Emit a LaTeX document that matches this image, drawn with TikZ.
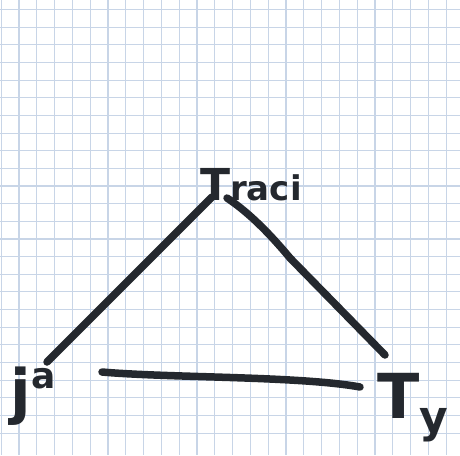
\documentclass[tikz,border=0pt]{standalone}
\usepackage{fontspec}
\setmainfont{DejaVu Sans}
\definecolor{gridblue}{RGB}{200,213,231}
\definecolor{ink}{RGB}{36,40,46}
\tikzset{
  gridline/.style={draw=gridblue, line width=1.1pt},
  stroke/.style={draw=ink, line width=7.5pt, line cap=round, line join=round},
  hand/.style={text=ink, inner sep=0pt, font=\bfseries},
}
\begin{document}
\begin{tikzpicture}[x=1pt,y=-1pt]
  \useasboundingbox (0,0) rectangle (460,455);
  \fill[white] (0,0) rectangle (460,455);
  % grid paper
  \foreach \i in {-1,...,24} \draw[gridline] ({19+17.8*\i},0) -- ++(0,455);
  \foreach \j in {0,...,24} \draw[gridline] (0,{9.5+17.65*\j}) -- ++(460,0);
  % labels
  \node[hand, anchor=base west] (traci) at (200,200)
    {{\fontsize{44}{44}\selectfont T}{\fontsize{34}{34}\selectfont raci}};
  \node[hand, anchor=base west] (ja) at (10,412)
    {{\fontsize{60}{60}\selectfont j}\kern1pt\raisebox{24pt}{\fontsize{36}{36}\selectfont a}};
  \node[hand, anchor=base west] (ty) at (377,418)
    {{\fontsize{62}{62}\selectfont T}\raisebox{-14pt}{\fontsize{44}{44}\selectfont y}};
  % triangle corners
  \coordinate (topL) at (212,197);
  \coordinate (topR) at (227,198);
  \coordinate (left) at (47,362);
  \coordinate (right) at (385,355);
  \coordinate (baseL) at (102,372);
  \coordinate (baseR) at (360,387);
  % strokes
  \draw[stroke] (left) -- (topL);
  \draw[stroke] (topR) .. controls (245,210) and (265,228) .. (290,258) -- (right);
  \draw[stroke] (baseL) .. controls (170,378) and (300,376) .. (baseR);
\end{tikzpicture}
\end{document}
